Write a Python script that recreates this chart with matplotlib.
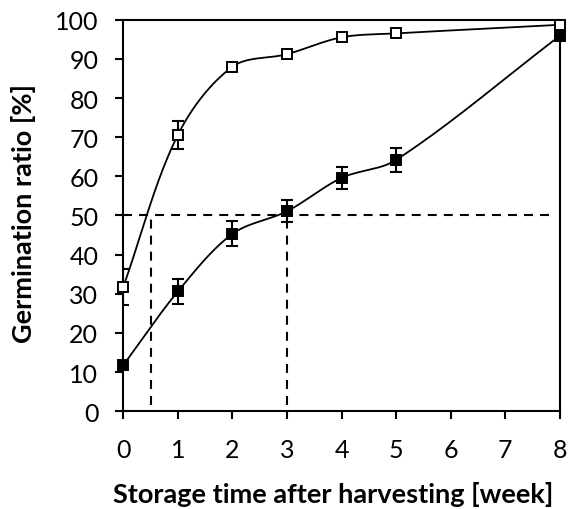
import numpy as np
import matplotlib.pyplot as plt

plt.rcParams['font.family'] = ['Lato', 'DejaVu Sans']

# storage time [week]
weeks = [0, 1, 2, 3, 4, 5, 8]

# germination ratio [%], two seed lots
open_vals = [31.8, 70.6, 88.0, 91.2, 95.5, 96.5, 98.7]
open_err = [4.6, 3.6, 0.0, 0.0, 0.0, 0.0, 0.0]
filled_vals = [11.8, 30.6, 45.3, 51.1, 59.6, 64.2, 95.9]
filled_err = [0.0, 3.1, 3.2, 2.8, 2.9, 3.1, 0.0]

# 50 % reference and the weeks where each curve crosses it
half_level = 50
half_weeks = [0.5, 3]


def smooth(x, y, sx, sy, n=40):
    """Bezier smoothing through every point, tangents split by chord length."""
    p = np.column_stack([np.asarray(x, float) * sx, np.asarray(y, float) * sy])
    p = np.vstack([p[0], p, p[-1]])
    t = np.linspace(0, 1, n)[:, None]
    out = []
    for i in range(1, len(p) - 2):
        p0, p1, p2, p3 = p[i - 1], p[i], p[i + 1], p[i + 2]
        d01 = np.hypot(*(p1 - p0))
        d12 = np.hypot(*(p2 - p1))
        d23 = np.hypot(*(p3 - p2))
        c1 = p1 + (p2 - p0) * d12 / (d01 + d12) / 3
        c2 = p2 - (p3 - p1) * d12 / (d12 + d23) / 3
        seg = ((1 - t) ** 3 * p1 + 3 * (1 - t) ** 2 * t * c1
               + 3 * (1 - t) * t ** 2 * c2 + t ** 3 * p2)
        out.append(seg)
    out = np.vstack(out)
    return out[:, 0] / sx, out[:, 1] / sy


fig = plt.figure(figsize=(5.69, 5.10), dpi=100)
ax = fig.add_axes([0.2167, 0.1916, 0.7673, 0.7678])

dash = (4.3, 3.4)
ax.plot([0, 7.8], [half_level, half_level], color='black', lw=1.5,
        dashes=dash, zorder=1)
for w in half_weeks:
    ax.plot([w, w], [1.5, half_level], color='black', lw=1.5,
            dashes=dash, zorder=1)

# pixel scale per data unit, so the smoothing works in screen space
px_x, px_y = 54.6, 3.916
for vals in (open_vals, filled_vals):
    sx, sy = smooth(weeks, vals, px_x, px_y)
    ax.plot(sx, sy, color='black', lw=1.3, zorder=2)

ax.errorbar(weeks, open_vals, yerr=open_err, fmt='none', ecolor='black',
            elinewidth=1.5, capsize=4, capthick=1.5, zorder=3)
ax.errorbar(weeks, filled_vals, yerr=filled_err, fmt='none', ecolor='black',
            elinewidth=1.5, capsize=4, capthick=1.5, zorder=3)

ax.plot(weeks, filled_vals, 's', ms=7.8, mfc='black', mec='black', mew=1.4,
        zorder=4, clip_on=False)
ax.plot(weeks, open_vals, 's', ms=7.8, mfc='white', mec='black', mew=1.4,
        zorder=5, clip_on=False)

ax.set_xlim(0, 8)
ax.set_ylim(0, 100)
ax.set_xticks(range(0, 9))
ax.set_yticks(range(0, 101, 10))

for s in ax.spines.values():
    s.set_linewidth(1.5)
ax.tick_params(direction='out', length=6, width=1.5, labelsize=18)
ax.tick_params(axis='y', pad=12)
ax.tick_params(axis='x', pad=13)

ax.set_xlabel('Storage time after harvesting [week]', fontsize=19.5,
              fontweight='bold', va='top')
ax.set_ylabel('Germination ratio [%]', fontsize=19.5, fontweight='bold')
ax.xaxis.set_label_coords(0.48, -0.178)
ax.yaxis.set_label_coords(-0.2, 0.508)

fig.savefig('out.png', dpi=100)
